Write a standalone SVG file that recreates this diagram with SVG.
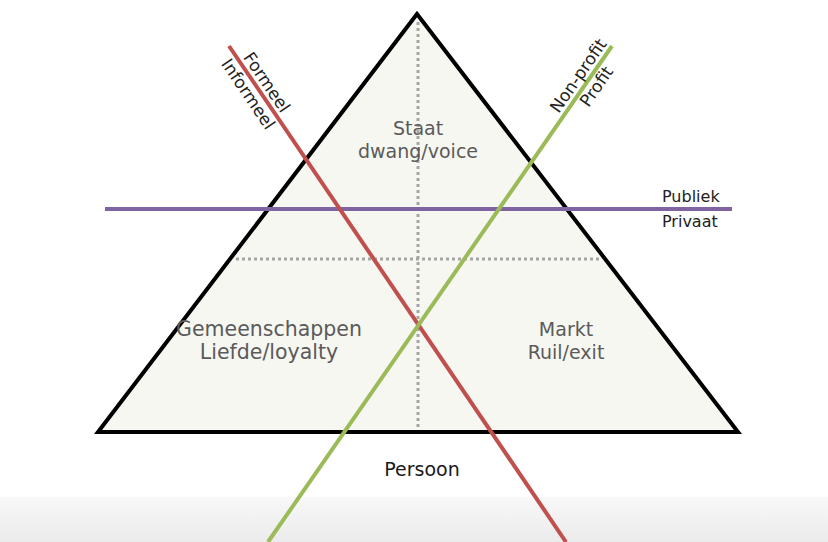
<svg xmlns="http://www.w3.org/2000/svg" width="828" height="542" viewBox="0 0 828 542">
  <defs>
    <linearGradient id="bg" x1="0" y1="0" x2="0" y2="1">
      <stop offset="0" stop-color="#f8f8f8"/>
      <stop offset="1" stop-color="#ebebeb"/>
    </linearGradient>
    <style>
      .tri { fill: #f7f7f2; stroke: #000; stroke-width: 4; stroke-linejoin: miter; }
      .dot { stroke: #a6a6a6; stroke-width: 3; stroke-dasharray: 3 3; fill: none; }
      .center { font-family: "DejaVu Sans", Verdana, sans-serif; font-size: 19px; fill: #5a5a5a; text-anchor: middle; }
      .big { font-size: 20.5px; }
      .lbl { font-family: "DejaVu Sans", Verdana, sans-serif; font-size: 16px; fill: #222; }
      .rot { font-family: "DejaVu Sans", Verdana, sans-serif; font-size: 17px; fill: #222; }
      .red { stroke: #c0504d; stroke-width: 4; fill: none; }
      .green { stroke: #9bbb59; stroke-width: 4; fill: none; }
      .purple { stroke: #8064a2; stroke-width: 4; fill: none; }
    </style>
  </defs>
  <rect x="0" y="0" width="828" height="542" fill="#ffffff"/>
  <rect x="0" y="497" width="828" height="45" fill="url(#bg)"/>

  <g id="triangle">
    <polygon class="tri" points="417,14 98,432 738,432"/>
    <line class="dot" x1="418" y1="22" x2="418" y2="430"/>
    <line class="dot" x1="236" y1="259" x2="601" y2="259"/>
  </g>

  <g id="staat">
    <text class="center" x="418" y="135">Staat</text>
    <text class="center" x="418" y="158">dwang/voice</text>
  </g>
  <g id="gemeenschappen">
    <text class="center big" x="269" y="336">Gemeenschappen</text>
    <text class="center big" x="269" y="359">Liefde/loyalty</text>
  </g>
  <g id="markt">
    <text class="center" x="566" y="336">Markt</text>
    <text class="center" x="566" y="359">Ruil/exit</text>
  </g>
  <g id="persoon">
    <text class="center" x="422" y="476" style="fill:#1a1a1a">Persoon</text>
  </g>

  <g id="connectors">
    <line id="publiek-privaat" class="purple" x1="105" y1="209" x2="732" y2="209"/>
    <line id="formeel-informeel" class="red" x1="229" y1="46" x2="566" y2="542"/>
    <line id="profit-nonprofit" class="green" x1="612" y1="46" x2="268" y2="542"/>
  </g>

  <g id="publiek-labels">
    <text class="lbl" x="662" y="202">Publiek</text>
    <text class="lbl" x="662" y="227">Privaat</text>
  </g>
  <g id="formeel-labels" transform="translate(229,46) rotate(55.8)">
    <text class="rot" x="17" y="-5">Formeel</text>
    <text class="rot" x="10" y="17">Informeel</text>
  </g>
  <g id="profit-labels" transform="translate(612,46) rotate(-55.3)">
    <text class="rot" x="-1" y="-5" text-anchor="end">Non-profit</text>
    <text class="rot" x="-20" y="16" text-anchor="end">Profit</text>
  </g>
</svg>
